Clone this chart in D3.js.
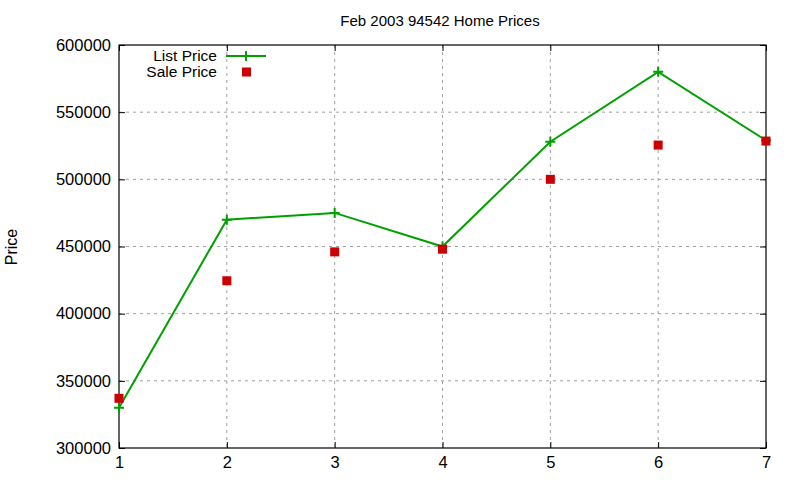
<!DOCTYPE html>
<html>
<head>
<meta charset="utf-8">
<script src="https://cdn.jsdelivr.net/npm/d3@7"></script>
<style>
  body { margin: 0; background: #fff; }
  text { font-family: "Liberation Sans", Arial, sans-serif; fill: #000; }
</style>
</head>
<body>
<div id="chart"></div>
<script>
var months = [1, 2, 3, 4, 5, 6, 7];
var listPrice = [330000, 470000, 475000, 450000, 528000, 580000, 529000];
var salePrice = [337000, 424500, 446000, 448000, 500000, 525500, 528500];
var yTicks = [300000, 350000, 400000, 450000, 500000, 550000, 600000];

function init(){
    var w = 800, h = 480;
    var left = 119, right = 766, top = 45, bottom = 448; // plot box

    var svg = d3.select("#chart").append("svg")
                .attr("width", w).attr("height", h);

    var x = d3.scaleLinear().domain([1, 7]).range([left, right]);
    var y = d3.scaleLinear().domain([300000, 600000]).range([bottom, top]);

    // grid
    svg.append("g").selectAll("line").data(months.slice(1, -1)).enter().append("line")
        .attr("x1", d => x(d)).attr("x2", d => x(d))
        .attr("y1", top).attr("y2", bottom)
        .attr("stroke", "#a0a0a0").attr("stroke-dasharray", "3,4");
    svg.append("g").selectAll("line").data(yTicks.slice(1, -1)).enter().append("line")
        .attr("x1", left).attr("x2", right)
        .attr("y1", d => y(d)).attr("y2", d => y(d))
        .attr("stroke", "#a0a0a0").attr("stroke-dasharray", "3,4");

    // axes (ticks inward, mirrored)
    var fs = "16.5px";
    svg.append("g").attr("transform", `translate(0,${bottom})`)
        .call(d3.axisBottom(x).tickValues(months).tickFormat(d3.format("d")).tickSizeInner(-6).tickSizeOuter(0).tickPadding(8));
    svg.append("g").attr("transform", `translate(${left},0)`)
        .call(d3.axisLeft(y).tickValues(yTicks).tickFormat(d3.format("d")).tickSizeInner(-6).tickSizeOuter(0).tickPadding(8));
    svg.append("g").attr("transform", `translate(0,${top})`)
        .call(d3.axisTop(x).tickValues(months).tickFormat("").tickSizeInner(-6).tickSizeOuter(0));
    svg.append("g").attr("transform", `translate(${right},0)`)
        .call(d3.axisRight(y).tickValues(yTicks).tickFormat("").tickSizeInner(-6).tickSizeOuter(0));
    svg.selectAll(".domain").remove();
    svg.selectAll(".tick line").attr("stroke", "#000");
    svg.selectAll(".tick text").style("font-size", fs).style("font-family", "Liberation Sans, Arial, sans-serif");

    svg.append("rect").attr("x", left).attr("y", top)
        .attr("width", right - left).attr("height", bottom - top)
        .attr("fill", "none").attr("stroke", "#000").attr("stroke-width", 1.2);

    // list price line
    var line = d3.line().x((d, i) => x(months[i])).y(d => y(d));
    svg.append("path").datum(listPrice)
        .attr("d", line).attr("fill", "none")
        .attr("stroke", "#00a000").attr("stroke-width", 2);

    function plus(g, cx, cy){
        g.append("path").attr("d", `M${cx-5},${cy}H${cx+5}M${cx},${cy-5}V${cy+5}`)
            .attr("stroke", "#00a000").attr("stroke-width", 2);
    }
    var pg = svg.append("g");
    listPrice.forEach((d, i) => plus(pg, x(months[i]), y(d)));

    // sale price squares
    svg.append("g").selectAll("rect").data(salePrice).enter().append("rect")
        .attr("x", (d, i) => x(months[i]) - 4.5).attr("y", d => y(d) - 4.5)
        .attr("width", 9).attr("height", 9).attr("fill", "#cc0000");

    // title
    svg.append("text").attr("x", 440).attr("y", 26).attr("text-anchor", "middle")
        .style("font-size", "15px").text("Feb 2003 94542 Home Prices");

    // y label
    svg.append("text").attr("transform", "translate(17,247) rotate(-90)")
        .attr("text-anchor", "middle").style("font-size", "16px").text("Price");

    // legend
    svg.append("text").attr("x", 217).attr("y", 60.5).attr("text-anchor", "end")
        .style("font-size", "15.5px").text("List Price");
    svg.append("line").attr("x1", 226).attr("x2", 266).attr("y1", 56).attr("y2", 56)
        .attr("stroke", "#00a000").attr("stroke-width", 2);
    plus(svg, 246, 56);
    svg.append("text").attr("x", 217).attr("y", 76.5).attr("text-anchor", "end")
        .style("font-size", "15.5px").text("Sale Price");
    svg.append("rect").attr("x", 242).attr("y", 67.5).attr("width", 9).attr("height", 9)
        .attr("fill", "#cc0000");
}
window.onload = init;
</script>
</body>
</html>
